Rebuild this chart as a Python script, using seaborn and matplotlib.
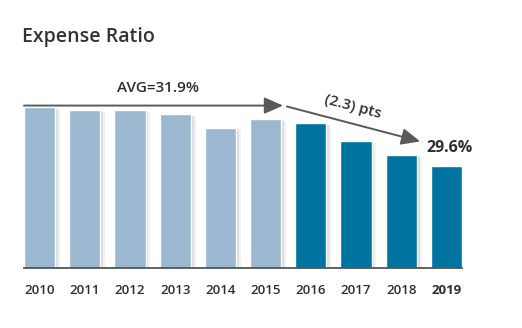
import matplotlib
matplotlib.use("Agg")
import matplotlib.pyplot as plt
import matplotlib.patheffects as pe
import seaborn as sns
import pandas as pd

years = ["2010", "2011", "2012", "2013", "2014", "2015", "2016", "2017", "2018", "2019"]
ratios = [32.2, 32.1, 32.1, 31.9, 31.3, 31.7, 31.5, 30.7, 30.1, 29.6]
bar_colors = ["#9bb8d0"] * 6 + ["#00749e"] * 4
title = "Expense Ratio"
avg_label = "AVG=31.9%"
delta_label = "(2.3) pts"
last_label = "29.6%"

sns.set_theme(style="white")
plt.rcParams["font.family"] = ["Open Sans", "DejaVu Sans"]

df = pd.DataFrame({"year": years, "ratio": ratios})

fig = plt.figure(figsize=(5.22, 3.28), dpi=100)
ax = fig.add_axes([24 / 522, 1 - 268 / 328, (462 - 24) / 522, (268 - 60) / 328])

sns.barplot(data=df, x="year", y="ratio", hue="year", palette=bar_colors,
            legend=False, width=0.69, ax=ax, saturation=1)

for p in ax.patches:
    p.set_path_effects([
        pe.SimplePatchShadow(offset=(3.5, -1.5), shadow_rgbFace="#999999", alpha=0.12),
        pe.SimplePatchShadow(offset=(2, -1), shadow_rgbFace="#888888", alpha=0.2),
        pe.Normal()])

ax.set_ylim(25.08, 34.3)
ax.set_xlim(-0.345, len(years) - 1 + 0.345)
ax.set_xlabel("")
ax.set_ylabel("")
ax.set_yticks([])
for s in ["left", "right", "top"]:
    ax.spines[s].set_visible(False)
ax.spines["bottom"].set_color("#555555")
ax.spines["bottom"].set_linewidth(1.3)
ax.tick_params(axis="x", length=0, pad=11.5, labelsize=9.5, labelcolor="#2e2e2e")
ax.set_xticks(range(len(years)))
ax.set_xticklabels(years)
for lbl in ax.get_xticklabels():
    lbl.set_fontweight("semibold")
ax.get_xticklabels()[-1].set_fontweight("bold")

arrow_y = max(ratios) + 0.08
arrow_kw = dict(arrowstyle="-|>,head_length=0.95,head_width=0.42", color="#595959", lw=1.4,
                shrinkA=0, shrinkB=0)
ax.annotate("", xy=(5.385, arrow_y), xytext=(-0.345, arrow_y), arrowprops=arrow_kw,
            annotation_clip=False)
ax.annotate("", xy=(8.42, 30.69), xytext=(5.47, arrow_y - 0.04), arrowprops=arrow_kw,
            annotation_clip=False)

ax.text(2.62, 33.08, avg_label, ha="center", va="center", fontsize=11,
        fontweight="semibold", color="#2e2e2e")
ax.text(6.93, 32.24, delta_label, ha="center", va="center", fontsize=11, color="#2e2e2e",
        fontweight="semibold", rotation=-15, rotation_mode="anchor")
ax.text(9.07, ratios[-1] + 0.78, last_label, ha="center", va="center", fontsize=11.5,
        fontweight="bold", color="#2e2e2e")

fig.text(22 / 522, 1 - 37 / 328, title, ha="left", va="center", fontsize=14,
         fontweight="semibold", color="#333333")

fig.savefig("out.png", dpi=100)
